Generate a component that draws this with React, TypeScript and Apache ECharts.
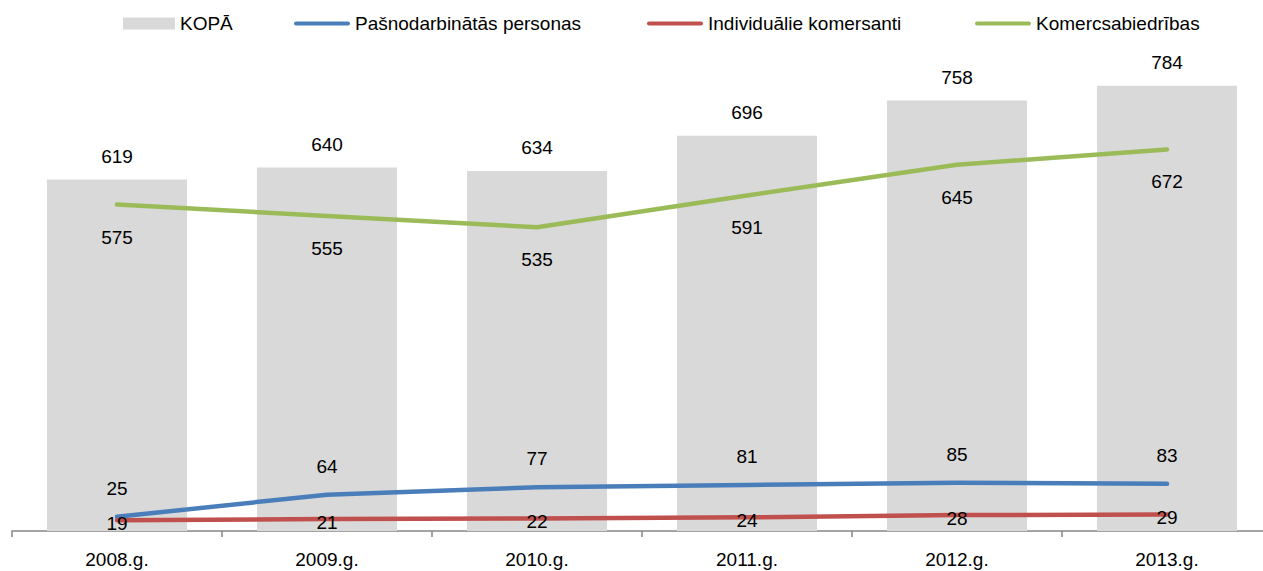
import React, { useEffect, useRef } from "react";
import * as echarts from "echarts";

const categories = ["2008.g.", "2009.g.", "2010.g.", "2011.g.", "2012.g.", "2013.g."];
const kopa = [619, 640, 634, 696, 758, 784];
const pasnodarbinatas = [25, 64, 77, 81, 85, 83];
const individualie = [19, 21, 22, 24, 28, 29];
const komercsabiedribas = [575, 555, 535, 591, 645, 672];

const seriesNames = ["KOPĀ", "Pašnodarbinātās personas", "Individuālie komersanti", "Komercsabiedrības"];
const colors = ["#d9d9d9", "#4a7ebb", "#c0504d", "#9bbb59"];

const FONT = "'Liberation Sans', Arial, sans-serif";
const LINE_ICON = "path://M2,0 L54,0 A2,2 0 0 1 54,4 L2,4 A2,2 0 0 1 2,0 Z";

export default function App() {
  const ref = useRef<HTMLDivElement>(null);
  useEffect(() => {
    if (!ref.current) return;
    const chart = echarts.init(ref.current, null, { renderer: "svg" });
    const labelBase = { color: "#000", fontSize: 19, fontFamily: FONT };
    const lineSeries = (idx: number, data: number[], label: any) => ({
      name: seriesNames[idx],
      type: "line",
      data,
      symbol: "circle",
      symbolSize: 0,
      showSymbol: true,
      itemStyle: { color: colors[idx] },
      lineStyle: { color: colors[idx], width: 4.5, cap: "round", join: "round" },
      label: { show: true, ...labelBase, ...label },
      z: 3 + idx,
    });
    const legendText = { color: "#000", fontSize: 19, fontFamily: FONT };
    const legendLefts = [123, 294, 647, 975];
    const legends = seriesNames.map((name, i) => ({
      left: legendLefts[i],
      top: 14,
      padding: 0,
      itemWidth: i === 0 ? 52 : 56,
      itemHeight: i === 0 ? 12 : 4,
      selectedMode: false,
      textStyle: legendText,
      data: [
        i === 0
          ? { name, icon: "rect", itemStyle: { color: colors[i] } }
          : { name, icon: LINE_ICON, itemStyle: { color: colors[i] } },
      ],
    }));
    chart.setOption({
      animation: false,
      textStyle: { fontFamily: FONT },
      legend: legends,
      grid: { left: 12, top: 20, width: 1260, height: 511, containLabel: false },
      xAxis: {
        type: "category",
        data: categories,
        boundaryGap: true,
        axisLine: { lineStyle: { color: "#868686", width: 1.5 } },
        axisTick: { show: true, length: 6, lineStyle: { color: "#868686", width: 1.5 } },
        axisLabel: { color: "#000", fontSize: 19, fontFamily: FONT, margin: 19 },
      },
      yAxis: { type: "value", min: 0, max: 900, show: false, splitLine: { show: false } },
      series: [
        {
          name: seriesNames[0],
          type: "bar",
          data: kopa,
          barCategoryGap: "33.3%",
          itemStyle: { color: colors[0] },
          label: { show: true, position: "top", distance: 14, ...labelBase },
          z: 1,
        },
        lineSeries(3, komercsabiedribas, { position: "bottom", distance: 23 }),
        lineSeries(1, pasnodarbinatas, { position: "top", distance: 19 }),
        lineSeries(2, individualie, { position: "inside", offset: [0, 3] }),
      ],
    });
    return () => chart.dispose();
  }, []);
  return (
    <div
      style={{
        position: "absolute",
        left: 0,
        top: 0,
        width: 1263,
        height: 571,
        overflow: "hidden",
        background: "#fff",
      }}
    >
      <div ref={ref} style={{ width: 1290, height: 571 }} />
    </div>
  );
}
